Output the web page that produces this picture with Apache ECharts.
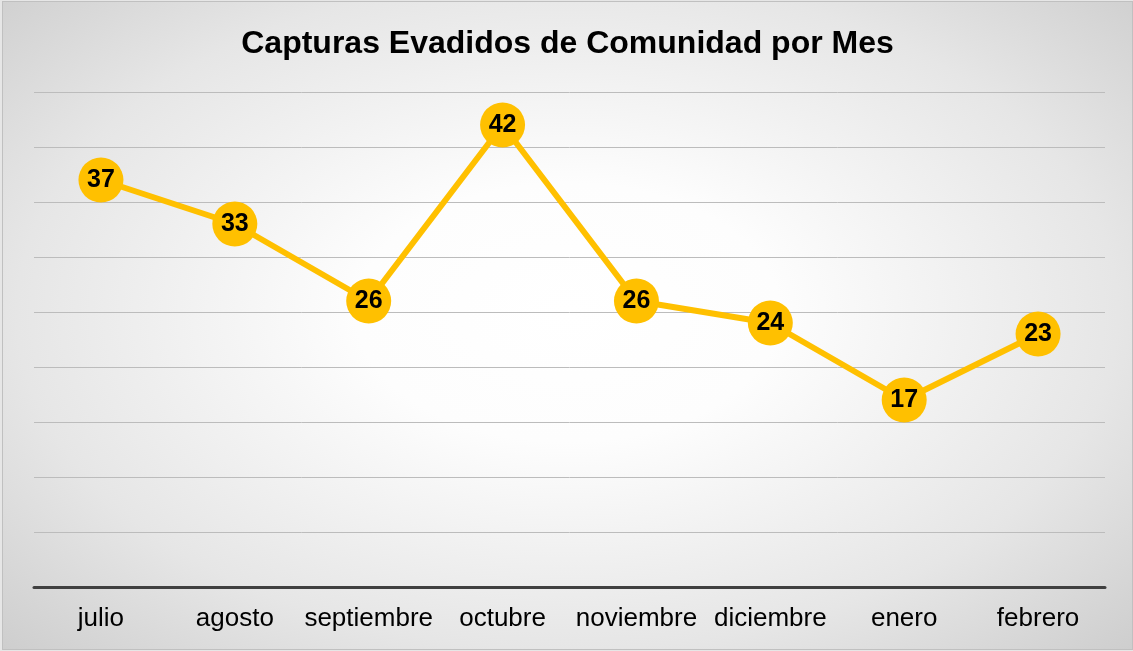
<!DOCTYPE html>
<html>
<head>
<meta charset="utf-8">
<script src="https://cdn.jsdelivr.net/npm/echarts@6/dist/echarts.min.js"></script>
<style>
html,body{margin:0;padding:0;width:1133px;height:651px;overflow:hidden;background:#e6e6e6;}
#c{position:absolute;left:2px;top:1px;width:1129px;height:647px;border:1px solid #c0c0c0;
  background:radial-gradient(ellipse 75% 80% at 50% 48%, #ffffff 0%, #fdfdfd 25%, #e6e6e6 65%, #c8c8c8 100%);}
</style>
</head>
<body>
<div id="c"></div>
<script>
const categories = ['julio','agosto','septiembre','octubre','noviembre','diciembre','enero','febrero'];
const values = [37,33,26,42,26,24,17,23];
const titleText = 'Capturas Evadidos de Comunidad por Mes';
const yMin = 0, yMax = 45, yStep = 5;

const chart = echarts.init(document.getElementById('c'), null, {renderer:'canvas'});
chart.setOption({
  backgroundColor:'transparent',
  title:{
    text:titleText, left:'center', top:21,
    textStyle:{fontFamily:'Liberation Sans, Arial', fontWeight:'bold', fontSize:32, color:'#000'}
  },
  grid:{left:31, right:27, top:90, bottom:62},
  xAxis:{
    type:'category', data:categories, boundaryGap:true,
    axisLine:{lineStyle:{color:'#404040', width:3}},
    axisTick:{show:false},
    axisLabel:{interval:0, fontFamily:'Liberation Sans, Arial', fontSize:26, color:'#000', margin:19}
  },
  yAxis:{
    type:'value', min:yMin, max:yMax, interval:yStep,
    axisLine:{show:false}, axisTick:{show:false}, axisLabel:{show:false},
    splitLine:{lineStyle:{color:'#bcbcbc', width:1}}
  },
  series:[{
    type:'line', data:values,
    symbol:'circle', symbolSize:45,
    lineStyle:{color:'#FFC000', width:6},
    itemStyle:{color:'#FFC000'},
    label:{show:true, position:'inside', fontFamily:'Liberation Sans, Arial', fontWeight:'bold', fontSize:25, color:'#000'},
    animation:false
  }],
  animation:false
});
</script>
</body>
</html>
